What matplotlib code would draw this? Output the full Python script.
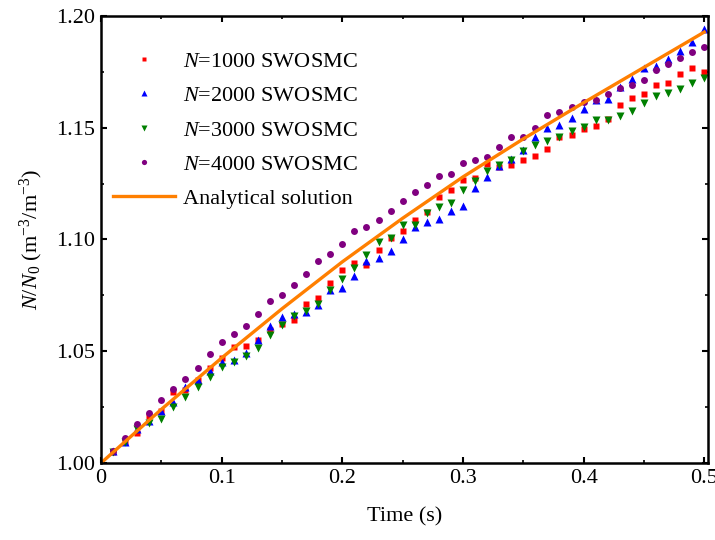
import matplotlib
matplotlib.use("Agg")
import matplotlib.pyplot as plt
from matplotlib.ticker import MultipleLocator, FixedLocator

plt.rcParams['font.family'] = ['Liberation Serif', 'DejaVu Serif']
plt.rcParams['mathtext.fontset'] = 'custom'
plt.rcParams['mathtext.rm'] = 'Liberation Serif'
plt.rcParams['mathtext.it'] = 'Liberation Serif:italic'

# ---- data ----
time = [i / 100 for i in range(1, 51)]

n1000 = [1.0050, 1.0095, 1.0135, 1.0210, 1.0232, 1.0318, 1.0327, 1.0370, 1.0423, 1.0470,
         1.0520, 1.0524, 1.0552, 1.0594, 1.0621, 1.0638, 1.0713, 1.0738, 1.0807, 1.0864,
         1.0894, 1.0888, 1.0955, 1.1008, 1.1036, 1.1089, 1.1122, 1.1189, 1.1222, 1.1265,
         1.1275, 1.1338, 1.1326, 1.1335, 1.1356, 1.1375, 1.1405, 1.1457, 1.1469, 1.1493,
         1.1508, 1.1540, 1.1603, 1.1633, 1.1650, 1.1692, 1.1700, 1.1740, 1.1766, 1.1751]

n2000 = [1.0055, 1.0095, 1.0150, 1.0190, 1.0232, 1.0274, 1.0340, 1.0370, 1.0410, 1.0452,
         1.0463, 1.0490, 1.0549, 1.0613, 1.0653, 1.0668, 1.0677, 1.0705, 1.0772, 1.0784,
         1.0835, 1.0903, 1.0918, 1.0948, 1.1003, 1.1055, 1.1077, 1.1092, 1.1126, 1.1152,
         1.1231, 1.1281, 1.1330, 1.1360, 1.1402, 1.1457, 1.1499, 1.1512, 1.1543, 1.1584,
         1.1622, 1.1629, 1.1684, 1.1716, 1.1768, 1.1775, 1.1808, 1.1844, 1.1883, 1.1942]

n3000 = [1.0050, 1.0095, 1.0150, 1.0177, 1.0195, 1.0249, 1.0296, 1.0338, 1.0385, 1.0430,
         1.0454, 1.0478, 1.0515, 1.0571, 1.0616, 1.0658, 1.0679, 1.0711, 1.0775, 1.0823,
         1.0874, 1.0929, 1.0988, 1.1008, 1.1063, 1.1067, 1.1118, 1.1144, 1.1164, 1.1222,
         1.1260, 1.1305, 1.1335, 1.1357, 1.1398, 1.1423, 1.1439, 1.1457, 1.1484, 1.1503,
         1.1536, 1.1536, 1.1552, 1.1573, 1.1610, 1.1644, 1.1655, 1.1674, 1.1700, 1.1722]

n4000 = [1.0055, 1.0110, 1.0173, 1.0225, 1.0280, 1.0329, 1.0374, 1.0427, 1.0487, 1.0540,
         1.0579, 1.0613, 1.0667, 1.0723, 1.0753, 1.0795, 1.0847, 1.0905, 1.0936, 1.0978,
         1.1037, 1.1055, 1.1085, 1.1129, 1.1174, 1.1211, 1.1244, 1.1286, 1.1293, 1.1340,
         1.1357, 1.1371, 1.1412, 1.1457, 1.1457, 1.1501, 1.1555, 1.1570, 1.1591, 1.1614,
         1.1622, 1.1652, 1.1677, 1.1689, 1.1714, 1.1760, 1.1786, 1.1811, 1.1841, 1.1859]

ana_time = [0.0, 0.05, 0.10, 0.15, 0.20, 0.25, 0.30, 0.35, 0.40, 0.45, 0.50]
ana_vals = [1.000, 1.0240, 1.0470, 1.0690, 1.0900, 1.1095, 1.1280, 1.1450, 1.1612, 1.1770, 1.1928]

labels = ['$N$=1000 SWOSMC', '$N$=2000 SWOSMC', '$N$=3000 SWOSMC', '$N$=4000 SWOSMC',
          'Analytical solution']
xtick_vals = [0, 0.1, 0.2, 0.3, 0.4, 0.5]
xtick_labels = ['0', '0.1', '0.2', '0.3', '0.4', '0.5']
ytick_vals = [1.00, 1.05, 1.10, 1.15, 1.20]
ytick_labels = ['1.00', '1.05', '1.10', '1.15', '1.20']

# ---- figure ----
fig = plt.figure(figsize=(7.15, 5.4), dpi=100)
ax = fig.add_axes([0.1413, 0.1426, 0.8487, 0.8278])

ms = 4.6
ax.plot(time, n1000, 's', color='#ff0000', ms=ms, mec='none', label=labels[0])
ax.plot(time, n2000, '^', color='#0000ff', ms=ms + 0.6, mec='none', label=labels[1])
ax.plot(time, n3000, 'v', color='#008000', ms=ms + 0.6, mec='none', label=labels[2])
ax.plot(time, n4000, 'o', color='#800080', ms=ms + 0.4, mec='none', label=labels[3])
ax.plot(ana_time, ana_vals, '-', color='#ff7f00', lw=2.4, label=labels[4])

ax.set_xlim(0, 0.503)
ax.set_ylim(1.0, 1.2)
ax.xaxis.set_major_locator(FixedLocator(xtick_vals))
ax.set_xticklabels(xtick_labels)
ax.xaxis.set_minor_locator(MultipleLocator(0.05))
ax.yaxis.set_major_locator(FixedLocator(ytick_vals))
ax.set_yticklabels(ytick_labels)
ax.yaxis.set_minor_locator(MultipleLocator(0.025))

ax.tick_params(which='both', direction='in', top=True, right=True, labelsize=16, pad=4)
ax.tick_params(which='major', length=4, width=1.5)
ax.tick_params(which='minor', length=2.5, width=1.2)
for s in ax.spines.values():
    s.set_linewidth(1.8)

ax.set_xlabel('Time (s)', fontsize=16, labelpad=14)
ax.set_ylabel(r'$N/N_0$ (m$^{-3}$/m$^{-3}$)', fontsize=16, labelpad=8)

leg = ax.legend(loc='upper left', bbox_to_anchor=(0.019, 0.921), frameon=False,
                fontsize=16, borderpad=0, borderaxespad=0, handlelength=2.8,
                handletextpad=0.35, labelspacing=0.62, markerscale=0.75)

fig.savefig('out.png', dpi=100)
